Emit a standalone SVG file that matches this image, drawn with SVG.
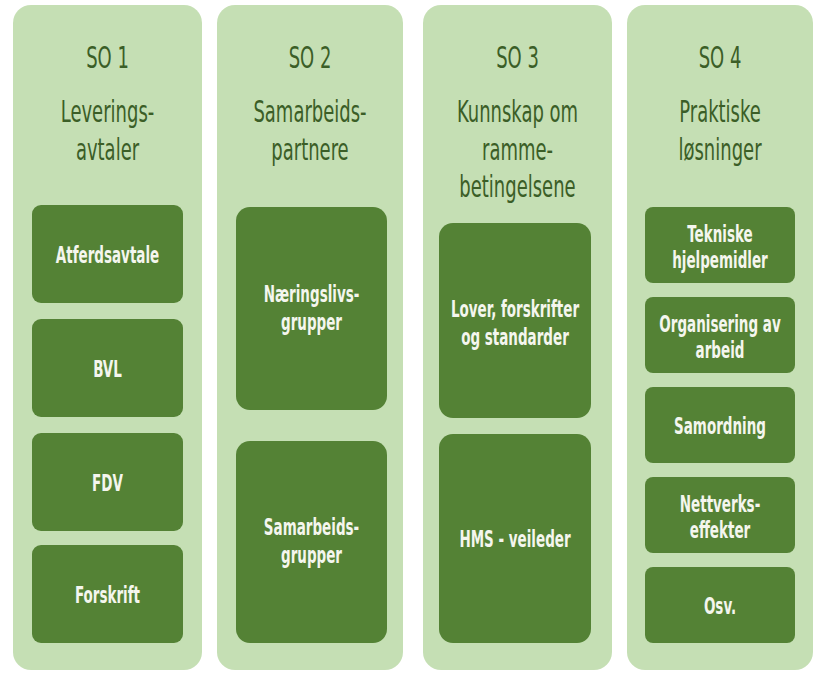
<svg xmlns="http://www.w3.org/2000/svg" width="817" height="677" viewBox="0 0 817 677">
<style>
.col{fill:#c5dfb4}
.box{fill:#548235}
text{font-family:"Liberation Sans Narrow","DejaVu Sans Condensed","Liberation Sans",sans-serif;text-anchor:middle}
.h{font-size:20px;fill:#3b5e27}
.w{font-size:15px;font-weight:bold;fill:#f4f6ee}
</style>
<rect width="817" height="677" fill="#ffffff"/>
<g id="connectors"/>
<g id="so1">
<rect class="col" x="13" y="5" width="189" height="665" rx="18"/>
<text class="h" transform="translate(107.5,68) scale(1,1.5)">SO 1</text>
<text class="h" transform="translate(107.5,122) scale(1,1.5)"><tspan x="0" y="0">Leverings-</tspan><tspan x="0" y="25.3">avtaler</tspan></text>
</g>
<g id="atferdsavtale"><rect class="box" x="32" y="205" width="151" height="98" rx="9"/><text class="w" transform="translate(107.5,263) scale(1,1.55)">Atferdsavtale</text></g>
<g id="bvl"><rect class="box" x="32" y="319" width="151" height="98" rx="9"/><text class="w" transform="translate(107.5,377) scale(1,1.55)">BVL</text></g>
<g id="fdv"><rect class="box" x="32" y="433" width="151" height="98" rx="9"/><text class="w" transform="translate(107.5,491) scale(1,1.55)">FDV</text></g>
<g id="forskrift"><rect class="box" x="32" y="545" width="151" height="98" rx="9"/><text class="w" transform="translate(107.5,603) scale(1,1.55)">Forskrift</text></g>

<g id="so2">
<rect class="col" x="217" y="5" width="186" height="665" rx="18"/>
<text class="h" transform="translate(310,68) scale(1,1.5)">SO 2</text>
<text class="h" transform="translate(310,122) scale(1,1.5)"><tspan x="0" y="0">Samarbeids-</tspan><tspan x="0" y="25.3">partnere</tspan></text>
</g>
<g id="naeringslivsgrupper"><rect class="box" x="236" y="207" width="151" height="203" rx="14"/><text class="w" transform="translate(311.5,302) scale(1,1.55)"><tspan x="0" y="0">Næringslivs-</tspan><tspan x="0" y="18">grupper</tspan></text></g>
<g id="samarbeidsgrupper"><rect class="box" x="236" y="441" width="151" height="202" rx="14"/><text class="w" transform="translate(311.5,535) scale(1,1.55)"><tspan x="0" y="0">Samarbeids-</tspan><tspan x="0" y="18">grupper</tspan></text></g>

<g id="so3">
<rect class="col" x="423" y="5" width="189" height="665" rx="18"/>
<text class="h" transform="translate(517.5,68) scale(1,1.5)">SO 3</text>
<text class="h" transform="translate(517.5,122) scale(1,1.5)"><tspan x="0" y="0">Kunnskap om</tspan><tspan x="0" y="25.3">ramme-</tspan><tspan x="0" y="50.3">betingelsene</tspan></text>
</g>
<g id="lover"><rect class="box" x="439" y="223" width="152" height="195" rx="14"/><text class="w" transform="translate(515,317) scale(1,1.55)"><tspan x="0" y="0">Lover, forskrifter</tspan><tspan x="0" y="18">og standarder</tspan></text></g>
<g id="hms"><rect class="box" x="439" y="434" width="152" height="209" rx="14"/><text class="w" transform="translate(515,547) scale(1,1.55)">HMS - veileder</text></g>

<g id="so4">
<rect class="col" x="627" y="5" width="186" height="665" rx="18"/>
<text class="h" transform="translate(720,68) scale(1,1.5)">SO 4</text>
<text class="h" transform="translate(720,122) scale(1,1.5)"><tspan x="0" y="0">Praktiske</tspan><tspan x="0" y="25.3">løsninger</tspan></text>
</g>
<g id="tekniske"><rect class="box" x="645" y="207" width="150" height="76" rx="8"/><text class="w" transform="translate(720,242) scale(1,1.55)"><tspan x="0" y="0">Tekniske</tspan><tspan x="0" y="17">hjelpemidler</tspan></text></g>
<g id="organisering"><rect class="box" x="645" y="297" width="150" height="76" rx="8"/><text class="w" transform="translate(720,332) scale(1,1.55)"><tspan x="0" y="0">Organisering av</tspan><tspan x="0" y="17">arbeid</tspan></text></g>
<g id="samordning"><rect class="box" x="645" y="387" width="150" height="76" rx="8"/><text class="w" transform="translate(720,434) scale(1,1.55)">Samordning</text></g>
<g id="nettverk"><rect class="box" x="645" y="477" width="150" height="76" rx="8"/><text class="w" transform="translate(720,512) scale(1,1.55)"><tspan x="0" y="0">Nettverks-</tspan><tspan x="0" y="17">effekter</tspan></text></g>
<g id="osv"><rect class="box" x="645" y="567" width="150" height="76" rx="8"/><text class="w" transform="translate(720,614) scale(1,1.55)">Osv.</text></g>
</svg>
